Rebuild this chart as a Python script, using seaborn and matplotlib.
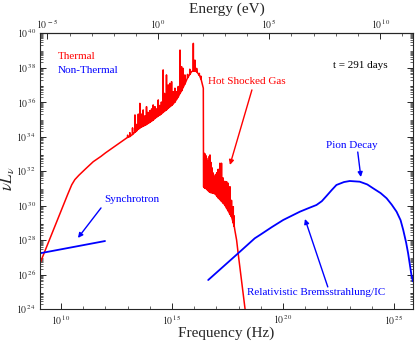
import numpy as np
import pandas as pd
import seaborn as sns
import matplotlib
matplotlib.use("Agg")
import matplotlib.pyplot as plt
from matplotlib.ticker import FixedLocator, FuncFormatter, LogLocator, NullFormatter

# ---------------- data (log10 values) ----------------
# thermal continuum (log10 nu [Hz], log10 nuL_nu)
therm_x = [9.05, 10.30, 10.48, 10.62, 10.80, 11.10, 11.45, 11.80, 12.00, 12.50, 12.95, 13.41,
           14.15, 14.90, 15.28, 15.66, 15.88, 16.11, 16.26, 16.41, 16.42, 16.93, 17.38,
           17.68, 17.83, 17.91, 17.98, 18.13, 18.28, 18.32]
therm_y = [26.65, 30.65, 31.20, 31.50, 31.75, 32.12, 32.54, 32.85, 33.05, 33.50, 33.90, 34.38,
           34.96, 35.73, 36.31, 37.28, 37.76, 37.76, 37.47, 36.80, 31.09, 30.71, 30.03,
           29.35, 28.58, 28.00, 27.23, 25.68, 24.13, 23.70]
# emission-line spikes: position, local continuum, peak
spike_x = [13.00, 13.10, 13.22, 13.33, 13.40, 13.48, 13.55, 13.62, 13.70, 13.78, 13.85,
           13.92, 14.00, 14.08, 14.15, 14.23, 14.30, 14.38, 14.45, 14.52, 14.60, 14.66,
           14.75, 14.83, 14.90, 14.98, 15.05, 15.13, 15.20, 15.28, 15.36, 15.43, 15.50,
           15.58, 15.70, 15.80, 15.96, 16.03, 16.11, 16.23, 16.30,
           16.45, 16.48, 16.52, 16.56, 16.60, 16.64, 16.68, 16.71, 16.75, 16.79, 16.84,
           16.90, 16.96, 17.02, 17.08, 17.16, 17.23, 17.30, 17.38, 17.46, 17.53, 17.61,
           17.68, 17.76, 17.80]
spike_base = [33.95, 34.00, 34.12, 34.25, 34.32, 34.42, 34.50, 34.55, 34.60, 34.65, 34.70,
              34.76, 34.82, 34.90, 34.96, 35.05, 35.12, 35.20, 35.25, 35.32, 35.40, 35.47,
              35.55, 35.65, 35.73, 35.80, 35.90, 36.00, 36.15, 36.31, 36.50, 36.65, 36.85,
              37.05, 37.40, 37.60, 37.80, 37.80, 37.76, 37.55, 37.35,
              31.05, 31.00, 31.00, 30.95, 30.90, 30.85, 30.80, 30.80, 30.75, 30.75, 30.72,
              30.70, 30.65, 30.55, 30.45, 30.35, 30.25, 30.15, 30.03, 29.85, 29.70, 29.50,
              29.35, 29.00, 28.80]
spike_peak = [34.08, 34.22, 34.50, 35.25, 34.70, 35.30, 35.92, 35.30, 35.54, 35.20, 35.73,
              35.40, 35.50, 35.60, 35.83, 35.73, 35.60, 36.12, 35.80, 36.00, 37.86, 36.50,
              37.57, 36.99, 37.08, 37.18, 36.60, 36.80, 36.60, 36.90, 39.01, 38.05, 37.95,
              37.57, 37.60, 37.90, 39.40, 38.43, 37.95, 37.66, 37.50,
              33.03, 33.00, 32.90, 32.74, 32.60, 32.30, 32.85, 32.93, 32.50, 32.20, 31.90,
              31.70, 31.80, 31.90, 32.10, 32.45, 32.45, 31.60, 31.40, 31.38, 31.29, 31.09,
              30.30, 29.93, 29.40]

# non-thermal
sync_x = [9.05, 11.98]
sync_y = [27.23, 27.94]
nt_x = [16.63, 17.98, 18.73, 18.96, 19.50, 20.01, 20.76, 21.10, 21.51, 21.75, 21.96, 22.20,
        22.41, 22.75, 23.01, 23.46, 23.80, 24.06, 24.40, 24.67, 24.90, 25.12, 25.30, 25.42,
        25.55, 25.64, 25.79, 25.86]
nt_y = [25.68, 27.23, 28.10, 28.29, 28.75, 29.16, 29.64, 29.82, 30.03, 30.25, 30.55, 30.90,
        31.19, 31.36, 31.42, 31.38, 31.22, 31.00, 30.72, 30.42, 30.05, 29.64, 29.15, 28.58,
        27.85, 27.23, 25.97, 25.60]

# ---------------- build tables ----------------
pts = list(zip(therm_x, therm_y, [0] * len(therm_x)))
for sx, sb, sp in zip(spike_x, spike_base, spike_peak):
    pts += [(sx - 0.004, sb, 1), (sx, sp, 2), (sx + 0.004, sb, 3)]
pts.sort(key=lambda p: (p[0], p[2]))
thermal = pd.DataFrame({"nu": [10 ** p[0] for p in pts], "L": [10 ** p[1] for p in pts]})
sync = pd.DataFrame({"nu": 10 ** np.array(sync_x), "L": 10 ** np.array(sync_y)})
nonth = pd.DataFrame({"nu": 10 ** np.array(nt_x), "L": 10 ** np.array(nt_y)})

# ---------------- style ----------------
sns.set_style("ticks")
plt.rcParams["font.family"] = ["Liberation Serif", "DejaVu Serif"]
plt.rcParams["mathtext.fontset"] = "stix"
plt.rcParams["axes.linewidth"] = 0.8

fig = plt.figure(figsize=(4.15, 3.43), dpi=100)
ax = fig.add_axes([40 / 415, 34 / 343, 373 / 415, 276 / 343])

RED = "#ff0000"
BLUE = "#0000ff"
sns.lineplot(data=thermal, x="nu", y="L", ax=ax, color=RED, lw=1.1,
             estimator=None, sort=False)
sns.lineplot(data=sync, x="nu", y="L", ax=ax, color=BLUE, lw=1.3, estimator=None, sort=False)
sns.lineplot(data=nonth, x="nu", y="L", ax=ax, color=BLUE, lw=1.3, estimator=None, sort=False)

ax.set_xscale("log")
ax.set_yscale("log")
ax.set_xlim(10 ** 9.05, 10 ** 25.86)
ax.set_ylim(1e24, 1e40)

def pow_fmt(v, pos):
    e = int(round(np.log10(v)))
    return r"$10^{\,%d}$" % e

ax.xaxis.set_major_locator(FixedLocator([1e10, 1e15, 1e20, 1e25]))
ax.xaxis.set_major_formatter(FuncFormatter(pow_fmt))
ax.xaxis.set_minor_locator(FixedLocator([10.0 ** k for k in range(9, 27)]))
ax.xaxis.set_minor_formatter(NullFormatter())

ax.yaxis.set_major_locator(FixedLocator([10.0 ** k for k in range(24, 41, 2)]))
ax.yaxis.set_major_formatter(FuncFormatter(pow_fmt))
ax.yaxis.set_minor_locator(LogLocator(base=10, subs=np.arange(2, 10), numticks=40))
ax.yaxis.set_minor_formatter(NullFormatter())

ax.tick_params(which="both", direction="in", top=False, right=True, labelsize=7, pad=3)
ax.tick_params(which="major", length=4, width=0.7)
ax.tick_params(which="minor", length=2, width=0.5)

ax.set_xlabel("Frequency (Hz)", fontsize=11, va="center")
ax.xaxis.set_label_coords(0.5, -0.087)
ax.set_ylabel(r"$\nu L_\nu$", fontsize=12, va="center")
ax.yaxis.set_label_coords(-0.085, 0.47)

h = 4.1357e-15
sec = ax.secondary_xaxis("top", functions=(lambda n: n * h, lambda e: e / h))
sec.xaxis.set_major_locator(FixedLocator([1e-5, 1e0, 1e5, 1e10]))
sec.xaxis.set_major_formatter(FuncFormatter(pow_fmt))
sec.xaxis.set_minor_locator(FixedLocator([10.0 ** k for k in range(-6, 13)]))
sec.xaxis.set_minor_formatter(NullFormatter())
sec.tick_params(which="both", direction="in", labelsize=7, pad=1.5)
sec.tick_params(which="major", length=4, width=0.7)
sec.tick_params(which="minor", length=2.5, width=0.5)
sec.set_xlabel("Energy (eV)", fontsize=11, labelpad=3)

def L(v):
    return 10 ** v

fs = 8
ax.text(L(9.86), L(38.61), "Thermal", color=RED, fontsize=fs, ha="left", va="center")
ax.text(L(9.86), L(37.80), "Non-Thermal", color=BLUE, fontsize=fs, ha="left", va="center")
ax.text(L(24.70), L(38.09), "t = 291 days", color="black", fontsize=fs, ha="right", va="center")

arrow = dict(arrowstyle="-|>", lw=1.0, mutation_scale=7, shrinkA=0, shrinkB=0)
ax.text(L(16.62), L(37.16), "Hot Shocked Gas", color=RED, fontsize=fs, ha="left", va="center")
ax.annotate("", xy=(L(17.61), L(32.35)), xytext=(L(18.60), L(36.70)),
            arrowprops=dict(arrow, color=RED))
ax.text(L(11.93), L(30.32), "Synchrotron", color=BLUE, fontsize=fs, ha="left", va="center")
ax.annotate("", xy=(L(10.76), L(28.12)), xytext=(L(11.80), L(29.86)),
            arrowprops=dict(arrow, color=BLUE))
ax.text(L(21.93), L(33.45), "Pion Decay", color=BLUE, fontsize=fs, ha="left", va="center")
ax.annotate("", xy=(L(23.51), L(31.65)), xytext=(L(23.37), L(33.10)),
            arrowprops=dict(arrow, color=BLUE))
ax.text(L(18.37), L(24.93), "Relativistic Bremsstrahlung/IC", color=BLUE, fontsize=fs,
        ha="left", va="center")
ax.annotate("", xy=(L(20.99), L(29.22)), xytext=(L(22.02), L(25.28)),
            arrowprops=dict(arrow, color=BLUE))

fig.savefig("out.png", dpi=100)
